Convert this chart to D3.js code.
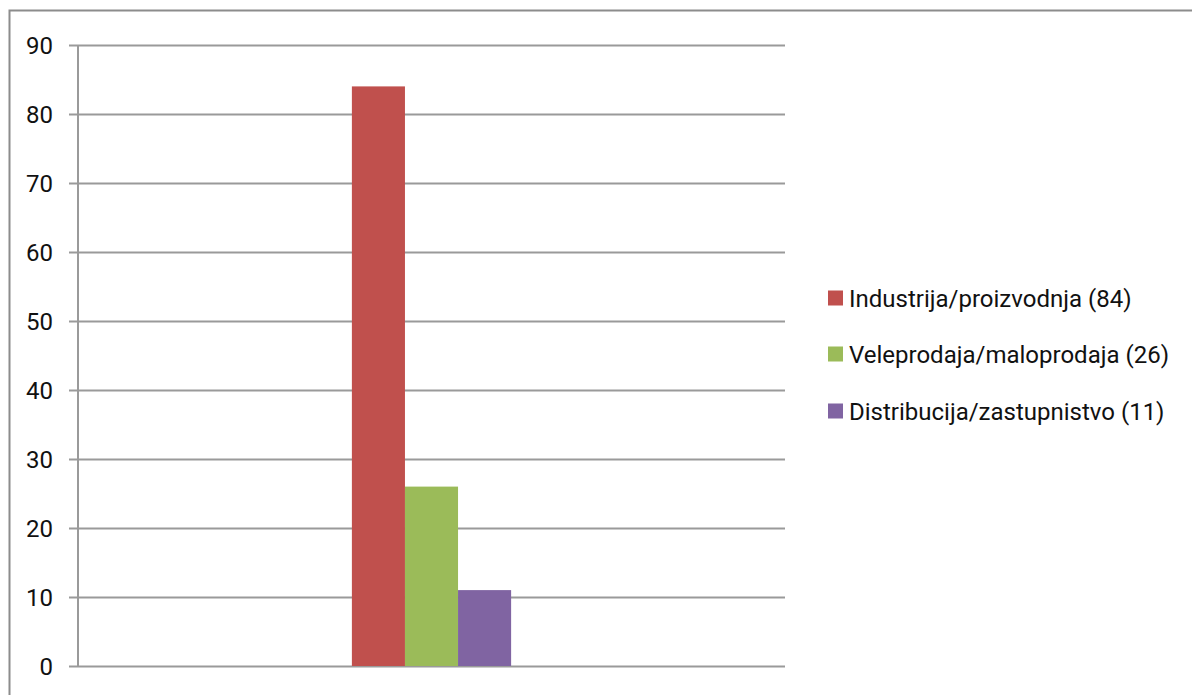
<!DOCTYPE html>
<html>
<head>
<meta charset="utf-8">
<style>
  body { margin: 0; background: #fff; }
  svg { display: block; }
</style>
</head>
<body>
<svg id="chart"></svg>
<script src="https://cdn.jsdelivr.net/npm/d3@7"></script>
<script>

var categories = ['Industrija/proizvodnja (84)', 'Veleprodaja/maloprodaja (26)', 'Distribucija/zastupnistvo (11)'];
var values = [84, 26, 11];
var colors = ['#C0504D', '#9BBB59', '#8064A2'];
var yTicks = [0, 10, 20, 30, 40, 50, 60, 70, 80, 90];

var W = 1192, H = 695;
var svg = d3.select('#chart').attr('width', W).attr('height', H);

// outer frame (only left and top edges are visible in the crop)
svg.append('path')
    .attr('d', 'M9.5,' + H + 'V10.5H' + W)
    .style('fill', 'none')
    .style('stroke', '#8c8c8c')
    .style('stroke-width', 2);

var plot = {left: 78, right: 785, top: 45, bottom: 666};

var y = d3.scaleLinear()
    .domain([0, 90])
    .range([plot.bottom, plot.top]);

// one category group in the middle of the plot, three series inside
var x0 = d3.scaleBand()
    .domain(['all'])
    .range([plot.left, plot.right])
    .paddingInner(0)
    .paddingOuter(1.72);

var x1 = d3.scaleBand()
    .domain(d3.range(values.length))
    .range([0, x0.bandwidth()])
    .padding(0);

// gridlines + tick marks
var grid = svg.append('g');
grid.selectAll('line')
    .data(yTicks)
    .enter().append('line')
    .attr('x1', plot.left - 9)
    .attr('x2', plot.right)
    .attr('y1', function(d) { return Math.round(y(d)) + 0.5; })
    .attr('y2', function(d) { return Math.round(y(d)) + 0.5; })
    .style('stroke', '#9a9a9a')
    .style('stroke-width', 2);

// y axis line
svg.append('line')
    .attr('x1', plot.left).attr('x2', plot.left)
    .attr('y1', plot.top).attr('y2', plot.bottom)
    .style('stroke', '#9a9a9a')
    .style('stroke-width', 2);

svg.append('g').selectAll('text')
    .data(yTicks)
    .enter().append('text')
    .attr('x', 53)
    .attr('y', function(d) { return y(d); })
    .attr('dy', '0.36em')
    .attr('text-anchor', 'end')
    .style('font-family', 'Roboto, sans-serif')
    .style('font-size', '24px')
    .style('fill', '#111')
    .text(function(d) { return d; });

// bars
svg.append('g')
    .attr('transform', 'translate(' + x0('all') + ',0)')
    .selectAll('rect')
    .data(values)
    .enter().append('rect')
    .attr('x', function(d, i) { return x1(i); })
    .attr('width', x1.bandwidth())
    .attr('y', function(d) { return y(d); })
    .attr('height', function(d) { return y(0) - y(d); })
    .style('fill', function(d, i) { return colors[i]; });

// legend
var legend = svg.append('g').attr('transform', 'translate(828,0)');
var rows = [298, 354, 411];
var item = legend.selectAll('g')
    .data(categories)
    .enter().append('g')
    .attr('transform', function(d, i) { return 'translate(0,' + rows[i] + ')'; });

item.append('rect')
    .attr('x', 0).attr('y', -7.5)
    .attr('width', 15).attr('height', 15)
    .style('fill', function(d, i) { return colors[i]; });

item.append('text')
    .attr('x', 21)
    .attr('dy', '0.36em')
    .style('font-family', 'Roboto, sans-serif')
    .style('font-size', '24px')
    .style('fill', '#111')
    .text(function(d) { return d; });

</script>
</body>
</html>
